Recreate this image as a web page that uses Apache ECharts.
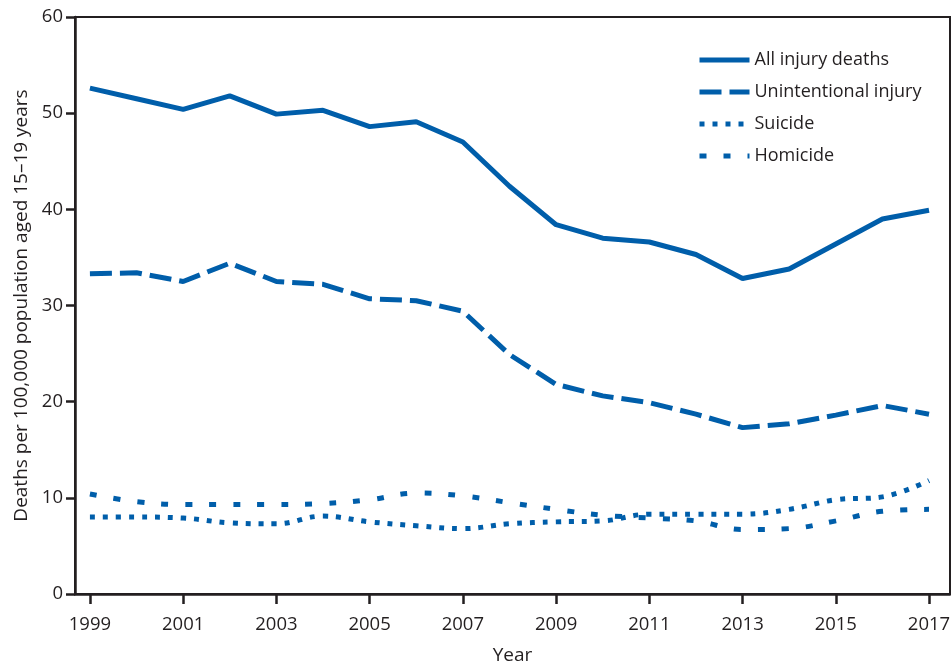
<!DOCTYPE html>
<html>
<head>
<meta charset="utf-8">
<script src="https://cdn.jsdelivr.net/npm/echarts@6/dist/echarts.min.js"></script>
<style>
html,body{margin:0;padding:0;background:#fff;}
#chart{width:951px;height:666px;}
</style>
</head>
<body>
<div id="chart"></div>
<script>
var years = [1999,2000,2001,2002,2003,2004,2005,2006,2007,2008,2009,2010,2011,2012,2013,2014,2015,2016,2017];
var allInjury     = [52.6,51.5,50.4,51.8,49.9,50.3,48.6,49.1,47.0,42.4,38.4,37.0,36.6,35.3,32.8,33.8,36.4,39.0,39.9];
var unintentional = [33.3,33.4,32.5,34.4,32.5,32.2,30.7,30.5,29.4,24.9,21.8,20.6,19.9,18.7,17.3,17.7,18.6,19.6,18.7];
var suicide       = [8.0,8.0,7.9,7.4,7.3,8.1,7.5,7.1,6.8,7.3,7.5,7.6,8.3,8.3,8.3,8.8,9.8,10.1,11.8];
var homicide      = [10.4,9.6,9.3,9.3,9.3,9.4,9.8,10.5,10.2,9.5,8.8,8.2,7.9,7.6,6.7,6.8,7.6,8.6,8.8];
var xTickLabels = [1999,2001,2003,2005,2007,2009,2011,2013,2015,2017];
var seriesNames = ['All injury deaths','Unintentional injury','Suicide','Homicide'];

function pairs(vals){ return years.map(function(y,i){ return [y, vals[i]]; }); }

var blue = '#005eaa';
var ink = '#231f20';
var font = 'Open Sans';
var dashTypes = ['solid', [22, 8], [5, 8], [7, 17]];

var chart = echarts.init(document.getElementById('chart'));
chart.setOption({
  animation: false,
  backgroundColor: '#fff',
  grid: {left: 75, right: 1, top: 17, bottom: 72, show: true, borderColor: ink, borderWidth: 2,
         containLabel: false, outerBoundsMode: 'none'},
  legend: {
    orient: 'vertical', left: 692, top: 45,
    itemWidth: 50, itemHeight: 14, itemGap: 12,
    itemStyle: {opacity: 0},
    textStyle: {fontFamily: font, fontSize: 18, color: ink, lineHeight: 20},
    data: seriesNames.map(function(n, i){
      return {name: n, itemStyle: {opacity: 0}, lineStyle: {color: blue, width: 5, type: dashTypes[i], cap: 'butt'}};
    })
  },
  xAxis: {
    type: 'value', min: 1998.68, max: 2017.45,
    name: 'Year', nameLocation: 'middle', nameGap: 52,
    nameTextStyle: {fontFamily: font, fontSize: 19, color: ink},
    axisLine: {show: true, lineStyle: {color: ink, width: 2.5}},
    axisTick: {show: true, length: 10, lineStyle: {color: ink, width: 2.5}, customValues: xTickLabels},
    axisLabel: {fontFamily: font, fontSize: 18.5, color: ink, margin: 21, customValues: xTickLabels, formatter: function(v){return String(v);}},
    splitLine: {show: false}
  },
  yAxis: {
    type: 'value', min: 0, max: 60, interval: 10,
    name: 'Deaths per 100,000 population aged 15\u201319 years', nameLocation: 'middle', nameGap: 44,
    nameTextStyle: {fontFamily: font, fontSize: 19, color: ink},
    axisLine: {show: true, lineStyle: {color: ink, width: 2.5}},
    axisTick: {show: true, length: 9, inside: false, lineStyle: {color: ink, width: 2.5}},
    axisLabel: {fontFamily: font, fontSize: 18.5, color: ink, margin: 12},
    splitLine: {show: false}
  },
  series: [
    {name: seriesNames[0], type: 'line', data: pairs(allInjury), symbol: 'none', color: blue,
     lineStyle: {color: blue, width: 5, type: dashTypes[0]}},
    {name: seriesNames[1], type: 'line', data: pairs(unintentional), symbol: 'none', color: blue,
     lineStyle: {color: blue, width: 5, type: dashTypes[1], cap: 'butt'}},
    {name: seriesNames[2], type: 'line', data: pairs(suicide), symbol: 'none', color: blue, smooth: 0.4,
     lineStyle: {color: blue, width: 5, type: dashTypes[2], cap: 'butt'}},
    {name: seriesNames[3], type: 'line', data: pairs(homicide), symbol: 'none', color: blue, smooth: 0.4,
     lineStyle: {color: blue, width: 5, type: dashTypes[3], cap: 'butt'}}
  ]
});
</script>
</body>
</html>
